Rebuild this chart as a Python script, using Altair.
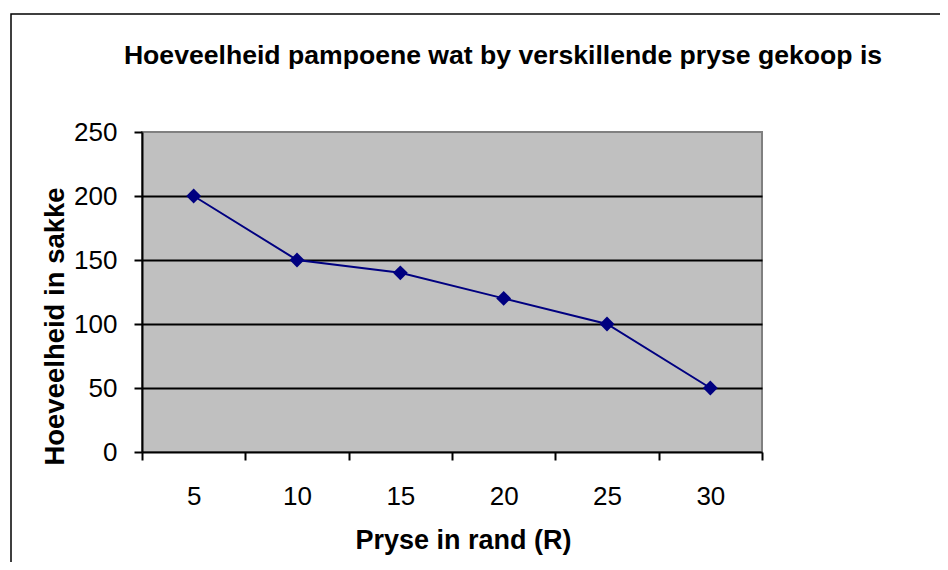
import altair as alt
import pandas as pd

prices = ["5", "10", "15", "20", "25", "30"]
quantities = [200, 150, 140, 120, 100, 50]
y_ticks = [0, 50, 100, 150, 200, 250]

title_text = "Hoeveelheid pampoene wat by verskillende pryse gekoop is"
x_title = "Pryse in rand (R)"
y_title = "Hoeveelheid in sakke"

FONT = "Liberation Sans, Arial, sans-serif"
W, H = 620, 320

df = pd.DataFrame({"prys": prices, "hoeveelheid": quantities})

x_enc = alt.X(
    "prys:O",
    sort=prices,
    scale=alt.Scale(type="band", paddingInner=0, paddingOuter=0),
    axis=alt.Axis(
        title=x_title,
        titleFont=FONT, titleFontSize=27, titleFontWeight="bold", titleColor="black",
        titleX=321, titleY=96, titleAlign="center", titleBaseline="alphabetic",
        labelFont=FONT, labelFontSize=26, labelColor="black", labelAngle=0,
        labelBaseline="alphabetic", labelPadding=44,
        tickBand="extent", tickSize=8, tickColor="black", tickWidth=2,
        domainColor="black", domainWidth=2, grid=False,
    ),
)
y_enc = alt.Y(
    "hoeveelheid:Q",
    scale=alt.Scale(domain=[0, 250], nice=False),
    axis=alt.Axis(
        values=y_ticks,
        title=y_title,
        titleFont=FONT, titleFontSize=27.5, titleFontWeight="bold", titleColor="black",
        titleX=-79, titleY=194, titleAngle=270, titleAlign="center", titleBaseline="alphabetic",
        labelFont=FONT, labelFontSize=26, labelColor="black",
        labelPadding=17, labelBaseline="middle",
        tickSize=8, tickColor="black", tickWidth=2,
        domainColor="black", domainWidth=2,
        grid=True, gridColor="black", gridWidth=2,
        gridOpacity={"condition": {"test": "datum.value === 250 || datum.value === 0", "value": 0}, "value": 1},
    ),
)

line = alt.Chart(df).mark_line(color="#000080", strokeWidth=2).encode(x=x_enc, y=y_enc)
pts = alt.Chart(df).mark_point(shape="diamond", filled=True, size=220, color="#000080", opacity=1).encode(
    x=alt.X("prys:O", sort=prices), y="hoeveelheid:Q"
)

border = alt.Chart(pd.DataFrame({"a": [0]})).mark_rect(
    fill=None, stroke="black", strokeWidth=1.5
).encode(x=alt.value(-131), x2=alt.value(830), y=alt.value(-118), y2=alt.value(460))

title = alt.Chart(pd.DataFrame({"t": [title_text]})).mark_text(
    font=FONT, fontSize=26.6, fontWeight="bold", color="black", align="center", baseline="alphabetic"
).encode(text="t:N", x=alt.value(361), y=alt.value(-68))

chart = alt.layer(line, pts, border, title).properties(
    width=W, height=H,
    autosize=alt.AutoSizeParams(type="none"),
    padding={"left": 134, "top": 124, "right": 178, "bottom": 110},
).configure(
    background="white"
).configure_view(
    fill="#C0C0C0", stroke="#808080", strokeWidth=2
)

chart.save("out.html", embed_options={"renderer": "svg", "actions": False})
